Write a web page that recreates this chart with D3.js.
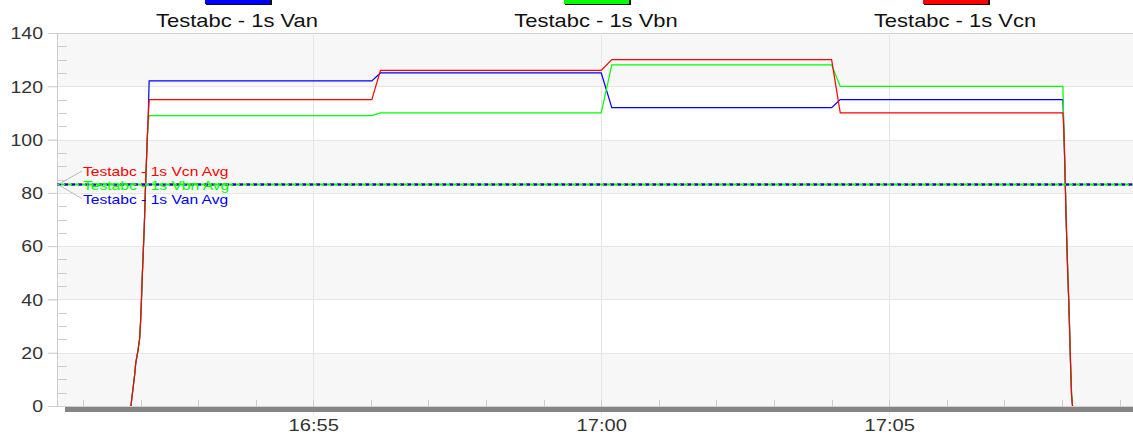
<!DOCTYPE html>
<html>
<head>
<meta charset="utf-8">
<title>Testabc 1s voltages</title>
<style>
    body { margin: 0; background: #fff; }
    text { font-family: "Liberation Sans", Arial, sans-serif; }
    .grid line { stroke: #e6e6e6; }
    .line { fill: none; stroke-width: 1.2px; }
    .avg { fill: none; stroke-width: 2px; stroke-dasharray: 4,3; }
</style>
</head>
<body>
<script src="https://cdn.jsdelivr.net/npm/d3@7"></script>
<script>
    // breakpoints shared by the three series (1s samples on the ramps)
    var times = ["16:51:50", "16:51:52", "16:51:54", "16:51:55", "16:51:57", "16:51:59",
        "16:52:00", "16:52:01", "16:52:02", "16:52:03", "16:52:04", "16:52:05", "16:52:06",
        "16:52:07", "16:52:08", "16:52:09",
        "16:56:01", "16:56:10", "17:00:00", "17:00:11", "17:04:00", "17:04:09",
        "17:08:01", "17:08:02", "17:08:03", "17:08:04", "17:08:05", "17:08:06",
        "17:08:07", "17:08:08", "17:08:09", "17:08:10", "17:08:11"];

    var van = [0, 6, 12, 16, 20, 25, 31, 40, 50, 59, 68, 80, 90, 100, 108, 122,
        122, 125, 125, 112, 112, 115,
        115, 103, 90, 75, 62, 50, 40, 28, 15, 4, 0];
    var vbn = [0, 6, 12, 16, 20, 25, 31, 40, 50, 59, 68, 80, 90, 100, 106, 109,
        109, 110, 110, 128, 128, 120,
        120, 104, 91, 77, 63, 51, 41, 29, 16, 5, 0];
    var vcn = [0, 6, 12, 16, 20, 25, 31, 40, 50, 59, 68, 80, 90, 100, 108, 115,
        115, 126, 126, 130, 130, 110,
        110, 103, 90, 75, 62, 50, 40, 28, 15, 4, 0];

    var seriesNames = ["Testabc - 1s Van", "Testabc - 1s Vbn", "Testabc - 1s Vcn"];
    var seriesColors = ["#0000ff", "#00ff00", "#ff0000"];
    var avgValues = [83.1, 83.1, 83.1];
    var avgNames = ["Testabc - 1s Van Avg", "Testabc - 1s Vbn Avg", "Testabc - 1s Vcn Avg"];
    var yTicks = [0, 20, 40, 60, 80, 100, 120, 140];

    var width = 1133, height = 435;
    var plotLeft = 57, plotRight = 1133, plotTop = 33, plotBottom = 406;
    var stretch = 1.22;   // the reference text is wider than tall

    var parse = d3.timeParse("%Y-%m-%d %H:%M:%S");
    function t(s) { return parse("2020-01-01 " + s); }

    var x = d3.scaleTime()
        .domain([t("16:50:33"), t("17:09:14")])
        .range([plotLeft, plotRight]);
    var y = d3.scaleLinear().domain([0, 140]).range([plotBottom, plotTop]);

    var svg = d3.select("body").append("svg")
        .attr("width", width)
        .attr("height", height);

    // alternating bands
    svg.append("g").selectAll("rect")
        .data([0, 40, 80, 120])
        .enter().append("rect")
        .attr("x", plotLeft).attr("width", plotRight - plotLeft)
        .attr("y", function (d) { return y(d + 20); })
        .attr("height", function (d) { return y(d) - y(d + 20); })
        .attr("fill", "#f7f7f7");

    // horizontal grid
    svg.append("g").attr("class", "grid").selectAll("line")
        .data(yTicks)
        .enter().append("line")
        .attr("x1", plotLeft - 9).attr("x2", plotRight)
        .attr("y1", function (d) { return Math.round(y(d)) + 0.5; })
        .attr("y2", function (d) { return Math.round(y(d)) + 0.5; })
        .style("stroke", function (d) { return d === 0 || d === 140 ? "#d0d0d0" : "#e6e6e6"; });

    // vertical grid at 5 minute ticks
    var major = x.ticks(d3.timeMinute.every(5));
    svg.append("g").attr("class", "grid").selectAll("line")
        .data(major)
        .enter().append("line")
        .attr("x1", function (d) { return Math.round(x(d)) + 0.5; })
        .attr("x2", function (d) { return Math.round(x(d)) + 0.5; })
        .attr("y1", plotTop).attr("y2", plotBottom + 9);

    // y axis
    var yAxis = svg.append("g")
        .attr("transform", "translate(" + plotLeft + ",0)")
        .call(d3.axisLeft(y).tickValues(yTicks).tickSize(9).tickFormat(d3.format("d")));
    yAxis.select(".domain").attr("stroke", "#ccc");
    yAxis.selectAll(".tick line").attr("stroke", "#ccc");
    yAxis.selectAll(".tick text")
        .attr("x", -14 / stretch)
        .attr("dy", "0.36em")
        .attr("transform", "scale(" + stretch + ",1)")
        .style("font-size", "16px")
        .attr("fill", "#333");

    // y minor ticks, inside the plot
    svg.append("g").selectAll("line")
        .data(d3.range(5, 140, 5).filter(function (d) { return d % 20 !== 0; }))
        .enter().append("line")
        .attr("x1", plotLeft).attr("x2", plotLeft + 10)
        .attr("y1", function (d) { return Math.round(y(d)) + 0.5; })
        .attr("y2", function (d) { return Math.round(y(d)) + 0.5; })
        .attr("stroke", "#ccc");

    // x axis bar
    svg.append("rect")
        .attr("x", 65).attr("y", plotBottom + 1)
        .attr("width", plotRight - 65).attr("height", 5)
        .attr("fill", "#858585");

    // x minor ticks every minute
    svg.append("g").selectAll("line")
        .data(x.ticks(d3.timeMinute.every(1)))
        .enter().append("line")
        .attr("x1", function (d) { return Math.round(x(d)) + 0.5; })
        .attr("x2", function (d) { return Math.round(x(d)) + 0.5; })
        .attr("y1", plotBottom - 6).attr("y2", plotBottom + 1)
        .attr("stroke", "#ccc");

    var xAxis = svg.append("g")
        .attr("transform", "translate(0," + plotBottom + ")")
        .call(d3.axisBottom(x).tickValues(major).tickSize(0).tickFormat(d3.timeFormat("%H:%M")));
    xAxis.select(".domain").remove();
    xAxis.selectAll(".tick text")
        .attr("y", 25)
        .attr("dy", 0)
        .attr("transform", "scale(" + stretch + ",1)")
        .style("font-size", "16.5px")
        .attr("fill", "#333");

    // series lines
    var data = [van, vbn, vcn];
    var line = d3.line()
        .x(function (d, i) { return x(t(times[i])); })
        .y(function (d) { return y(d); });

    svg.append("g").selectAll("path")
        .data(data)
        .enter().append("path")
        .attr("class", "line")
        .attr("stroke", function (d, i) { return seriesColors[i]; })
        .attr("d", line);

    // average lines
    var avgOrder = [2, 0, 1];
    svg.append("g").selectAll("line")
        .data(avgOrder)
        .enter().append("line")
        .attr("class", "avg")
        .attr("x1", plotLeft).attr("x2", plotRight)
        .attr("y1", function (i) { return y(avgValues[i]); })
        .attr("y2", function (i) { return y(avgValues[i]); })
        .attr("stroke", function (i) { return seriesColors[i]; })
        .attr("stroke-dashoffset", function (i) { return i === 1 ? 3 : 0; });

    // avg labels with leader lines
    var ay = y(avgValues[0]);
    var labelY = [ay + 19, ay + 5, ay - 8.5];
    svg.append("g").selectAll("line")
        .data([0, 2])
        .enter().append("line")
        .attr("x1", plotLeft + 1).attr("y1", ay)
        .attr("x2", 82).attr("y2", function (i) { return labelY[i] - 5; })
        .attr("stroke", "#bbb");
    svg.append("g").selectAll("text")
        .data([0, 1, 2])
        .enter().append("text")
        .attr("transform", function (i) { return "translate(83," + labelY[i] + ") scale(" + stretch + ",1)"; })
        .style("font-size", "12.8px")
        .attr("fill", function (i) { return seriesColors[i]; })
        .text(function (i) { return avgNames[i]; });

    // legend
    var legendX = [237, 596, 955];
    var legend = svg.append("g").selectAll("g")
        .data([0, 1, 2])
        .enter().append("g")
        .attr("transform", function (i) { return "translate(" + legendX[i] + ",0)"; });
    legend.append("rect")
        .attr("x", -31).attr("y", -4).attr("width", 66).attr("height", 9)
        .attr("fill", "#111");
    legend.append("rect")
        .attr("x", -32).attr("y", -4).attr("width", 65).attr("height", 8)
        .attr("fill", function (i) { return seriesColors[i]; });
    legend.append("text")
        .attr("transform", "translate(0,26.5) scale(" + stretch + ",1)")
        .attr("text-anchor", "middle")
        .style("font-size", "18px")
        .attr("fill", "#111")
        .text(function (i) { return seriesNames[i]; });
</script>
</body>
</html>
